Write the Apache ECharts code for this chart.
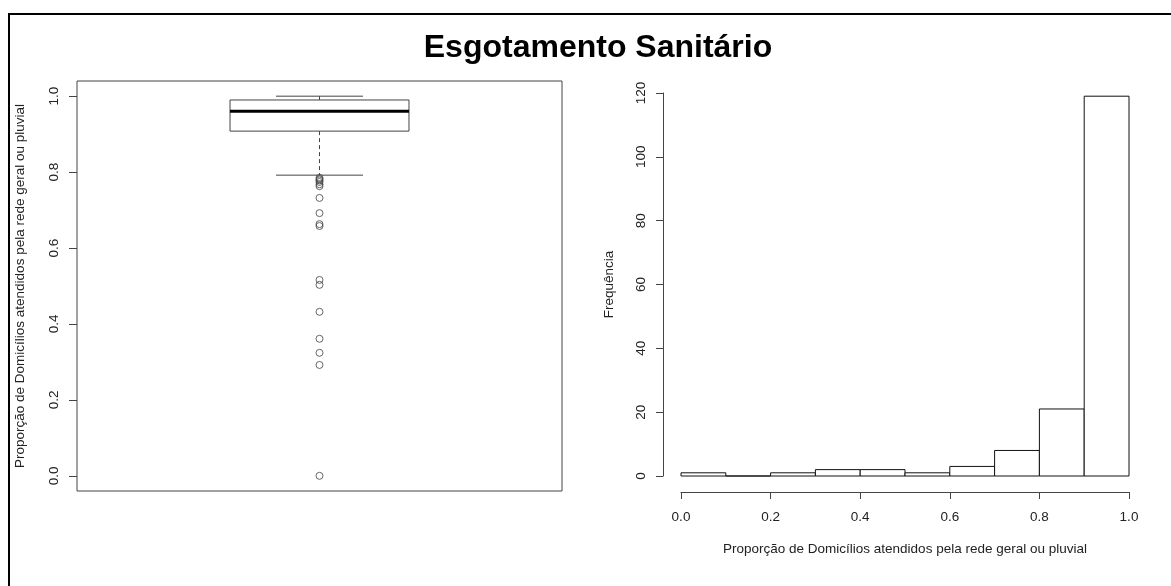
<!DOCTYPE html>
<html><head><meta charset="utf-8">
<script src="https://cdn.jsdelivr.net/npm/echarts@6/dist/echarts.min.js"></script>
<style>html,body{margin:0;padding:0;background:#fff}#c{width:1171px;height:586px}</style>
</head><body><div id="c"></div>
<script>
const chartTitle = 'Esgotamento Sanitário';
const propTitle = 'Proporção de Domicílios atendidos pela rede geral ou pluvial';
const freqTitle = 'Frequência';
// boxplot stats: lower whisker, Q1, median, Q3, upper whisker
const boxStats = [0.792, 0.908, 0.960, 0.990, 1.000];
const outliers = [0.785, 0.781, 0.778, 0.774, 0.768, 0.763, 0.732, 0.692, 0.663, 0.658, 0.516, 0.503, 0.432, 0.361, 0.324, 0.292, 0.000];
const binEdges = [0.0, 0.1, 0.2, 0.3, 0.4, 0.5, 0.6, 0.7, 0.8, 0.9, 1.0];
const binCounts = [1, 0, 1, 2, 2, 1, 3, 8, 21, 119];
const propTicks = [0.0, 0.2, 0.4, 0.6, 0.8, 1.0];
const freqTicks = [0, 20, 40, 60, 80, 100, 120];

const FONT = 'Liberation Sans, Arial, sans-serif';
const FS = 13.5;
const lineCol = '#444';
const txtCol = '#222';

const chart = echarts.init(document.getElementById('c'), null, {renderer: 'canvas'});
chart.setOption({
  animation: false,
  backgroundColor: '#fff',
  textStyle: {fontFamily: FONT},
  title: {
    text: chartTitle, left: 593, top: 27, textAlign: 'center',
    textStyle: {fontSize: 32, fontWeight: 'bold', color: '#000', fontFamily: FONT}
  },
  graphic: [{
    type: 'rect', silent: true, z: 100,
    shape: {x: 9, y: 14, width: 1300, height: 700},
    style: {fill: 'none', stroke: '#000', lineWidth: 2}
  }],
  grid: [
    {left: 77, top: 81, width: 485, height: 410, show: true, borderColor: lineCol, borderWidth: 1, backgroundColor: 'transparent'},
    {left: 681, top: 93, width: 448, height: 383, show: false}
  ],
  xAxis: [
    {gridIndex: 0, type: 'category', data: ['1'], show: false},
    {gridIndex: 1, type: 'value', min: 0, max: 1, interval: 0.2, position: 'bottom', offset: 16,
     axisLine: {show: true, onZero: false, lineStyle: {color: lineCol, width: 1}},
     axisTick: {show: true, length: 7, lineStyle: {color: lineCol}},
     axisLabel: {margin: 18, color: txtCol, fontSize: FS, fontFamily: FONT,
                 customValues: propTicks, formatter: v => v.toFixed(1)},
     splitLine: {show: false},
     name: propTitle, nameLocation: 'middle', nameGap: 50,
     nameTextStyle: {fontSize: FS, color: txtCol, fontFamily: FONT}}
  ],
  yAxis: [
    {gridIndex: 0, type: 'value', min: -0.04, max: 1.04,
     axisLine: {show: false, onZero: false},
     axisTick: {show: true, length: 8, customValues: propTicks, lineStyle: {color: lineCol}},
     axisLabel: {rotate: 90, margin: 16, color: txtCol, fontSize: FS, fontFamily: FONT,
                 customValues: propTicks, formatter: v => v.toFixed(1)},
     splitLine: {show: false},
     name: propTitle, nameLocation: 'middle', nameRotate: 90, nameGap: 50,
     nameTextStyle: {fontSize: FS, color: txtCol, fontFamily: FONT}},
    {gridIndex: 1, type: 'value', min: 0, max: 120, interval: 20, offset: 18,
     axisLine: {show: true, onZero: false, lineStyle: {color: lineCol, width: 1}},
     axisTick: {show: true, length: 7, lineStyle: {color: lineCol}},
     axisLabel: {rotate: 90, margin: 15, color: txtCol, fontSize: FS, fontFamily: FONT,
                 customValues: freqTicks},
     splitLine: {show: false},
     name: freqTitle, nameLocation: 'middle', nameRotate: 90, nameGap: 47,
     nameTextStyle: {fontSize: FS, color: txtCol, fontFamily: FONT}}
  ],
  series: [
    {
      type: 'custom', xAxisIndex: 0, yAxisIndex: 0, clip: false,
      data: [[0].concat(boxStats)],
      encode: {x: 0, y: [1, 2, 3, 4, 5]},
      renderItem: function (params, api) {
        const x = api.value(0);
        const pLo = api.coord([x, api.value(1)]);
        const pQ1 = api.coord([x, api.value(2)]);
        const pMed = api.coord([x, api.value(3)]);
        const pQ3 = api.coord([x, api.value(4)]);
        const pHi = api.coord([x, api.value(5)]);
        const band = api.size([1, 0])[0];
        const half = band * 0.1845;
        const cap = band * 0.0897;
        const cx = pLo[0];
        const st = {stroke: lineCol, lineWidth: 1};
        const dash = {stroke: lineCol, lineWidth: 1, lineDash: [4, 3]};
        return {type: 'group', children: [
          {type: 'line', shape: {x1: cx, y1: pQ1[1], x2: cx, y2: pLo[1]}, style: dash},
          {type: 'line', shape: {x1: cx, y1: pQ3[1], x2: cx, y2: pHi[1]}, style: dash},
          {type: 'line', shape: {x1: cx - cap, y1: pLo[1], x2: cx + cap, y2: pLo[1]}, style: st},
          {type: 'line', shape: {x1: cx - cap, y1: pHi[1], x2: cx + cap, y2: pHi[1]}, style: st},
          {type: 'rect', shape: {x: cx - half, y: pQ3[1], width: 2 * half, height: pQ1[1] - pQ3[1]},
           style: {fill: 'none', stroke: lineCol, lineWidth: 1}},
          {type: 'line', shape: {x1: cx - half, y1: pMed[1], x2: cx + half, y2: pMed[1]},
           style: {stroke: '#000', lineWidth: 3}}
        ]};
      }
    },
    {
      type: 'scatter', xAxisIndex: 0, yAxisIndex: 0,
      data: outliers.map(v => [0, v]),
      symbol: 'circle', symbolSize: 7,
      itemStyle: {color: 'rgba(0,0,0,0)', borderColor: lineCol, borderWidth: 1}
    },
    {
      type: 'custom', xAxisIndex: 1, yAxisIndex: 1, clip: false,
      data: binCounts.map((c, i) => [binEdges[i], binEdges[i + 1], c]),
      encode: {x: [0, 1], y: 2},
      renderItem: function (params, api) {
        const p0 = api.coord([api.value(0), api.value(2)]);
        const p1 = api.coord([api.value(1), 0]);
        return {type: 'rect',
          shape: {x: p0[0], y: p0[1], width: p1[0] - p0[0], height: p1[1] - p0[1]},
          style: {fill: '#fff', stroke: '#111', lineWidth: 1}};
      }
    }
  ]
});
</script></body></html>
